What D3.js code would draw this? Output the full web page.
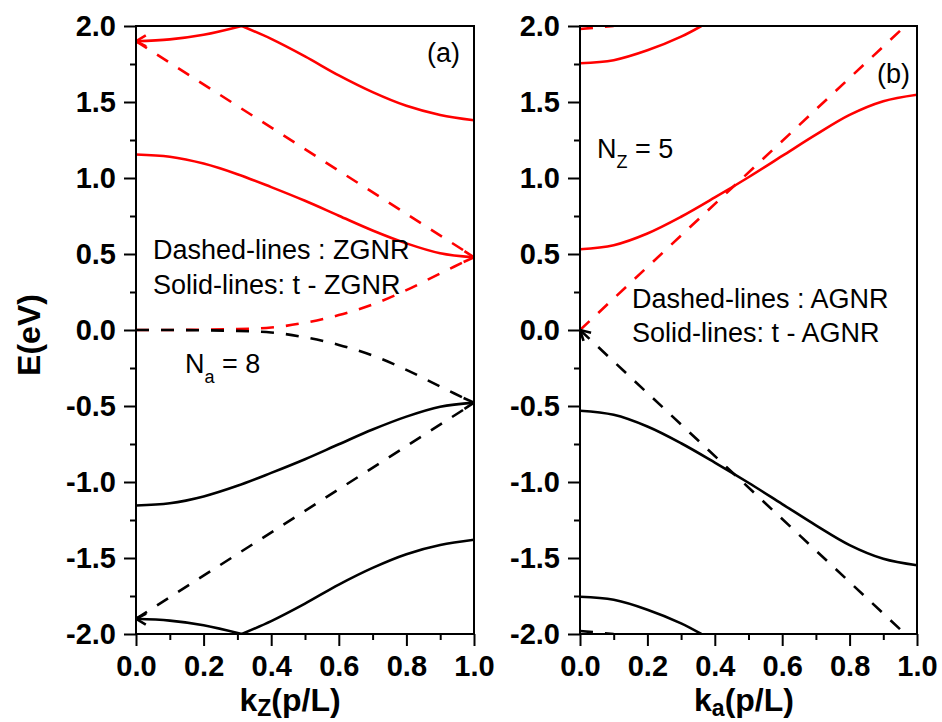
<!doctype html>
<html lang="en">
<head>
    <meta charset="UTF-8">
    <title>D3: band structure</title>
    <script type="text/javascript" src="https://cdn.jsdelivr.net/npm/d3@7"></script>
    <style type="text/css">
        body { margin: 0; background: #fff; }
        svg { font-family: "Liberation Sans", Arial, sans-serif; }
        .tick text { font-weight: bold; font-size: 29px; fill: #000; }
        .domain { display: none; }
        .tick line { stroke: #000; stroke-width: 2px; }
    </style>
</head>
<body>
<script type="text/javascript">
    // shared k grid
    var kFull = [0, 0.1, 0.2, 0.3, 0.4, 0.5, 0.6, 0.7, 0.8, 0.9, 1.0];

    // panel (a): ZGNR / t-ZGNR, Na = 8
    var aRiseK = [0, 0.1, 0.2, 0.313];
    var aFallK = [0.313, 0.4, 0.5, 0.6, 0.7, 0.8, 0.9, 1.0];
    var aLineK = [0, 1];
    var aRedTopRise = [1.90, 1.912, 1.942, 2.0];
    var aRedTopFall = [2.0, 1.915, 1.80, 1.675, 1.565, 1.475, 1.415, 1.38];
    var aRedSolid = [1.155, 1.14, 1.095, 1.025, 0.94, 0.85, 0.752, 0.655, 0.57, 0.505, 0.478];
    var aRedDashUpper = [1.90, 0.48];
    var aRedDashLower = [0, 0, 0.002, 0.006, 0.016, 0.048, 0.098, 0.168, 0.262, 0.372, 0.48];
    var aBlackDashUpper = [0, 0, -0.002, -0.006, -0.016, -0.048, -0.098, -0.168, -0.262, -0.372, -0.48];
    var aBlackDashLower = [-1.90, -0.48];
    var aBlackSolid = [-1.155, -1.14, -1.095, -1.025, -0.94, -0.85, -0.752, -0.655, -0.57, -0.505, -0.478];
    var aBlackBotRise = [-1.90, -1.912, -1.942, -2.0];
    var aBlackBotFall = [-2.0, -1.915, -1.80, -1.675, -1.565, -1.475, -1.415, -1.38];

    // panel (b): AGNR / t-AGNR, Nz = 5
    var bTopK = [0, 0.1, 0.2, 0.3, 0.36];
    var bStubK = [0, 0.1];
    var bDashK = [0, 0.965];
    var bRedTop = [1.755, 1.775, 1.84, 1.93, 2.0];
    var bRedStub = [1.98, 2.0];
    var bRedSolid = [0.531, 0.558, 0.635, 0.745, 0.872, 1.005, 1.145, 1.285, 1.415, 1.505, 1.548];
    var bRedDash = [0, 2.0];
    var bBlackDash = [0, -2.0];
    var bBlackSolid = [-0.531, -0.558, -0.635, -0.745, -0.872, -1.005, -1.145, -1.285, -1.415, -1.505, -1.548];
    var bBlackBot = [-1.755, -1.775, -1.84, -1.93, -2.0];
    var bBlackStub = [-1.98, -2.0];

    var yMajor = [-2, -1.5, -1, -0.5, 0, 0.5, 1, 1.5, 2];
    var yMinor = [-1.75, -1.25, -0.75, -0.25, 0.25, 0.75, 1.25, 1.75];
    var xMajor = [0, 0.2, 0.4, 0.6, 0.8, 1.0];
    var xMinor = [0.1, 0.3, 0.5, 0.7, 0.9];

    var RED = "#ff0000", BLACK = "#000000";

    var panels = [
        {
            id: "a", left: 136, right: 474,
            curves: [
                {k: aRiseK, e: aRedTopRise, c: RED, start: true},
                {k: aFallK, e: aRedTopFall, c: RED},
                {k: kFull, e: aRedSolid, c: RED, end: true},
                {k: aLineK, e: aRedDashUpper, c: RED, dash: true},
                {k: kFull, e: aRedDashLower, c: RED, dash: true},
                {k: kFull, e: aBlackDashUpper, c: BLACK, dash: true},
                {k: aLineK, e: aBlackDashLower, c: BLACK, dash: true},
                {k: kFull, e: aBlackSolid, c: BLACK, end: true},
                {k: aRiseK, e: aBlackBotRise, c: BLACK, start: true},
                {k: aFallK, e: aBlackBotFall, c: BLACK}
            ]
        },
        {
            id: "b", left: 580, right: 917,
            curves: [
                {k: bTopK, e: bRedTop, c: RED},
                {k: bStubK, e: bRedStub, c: RED, dash: true},
                {k: kFull, e: bRedSolid, c: RED},
                {k: bDashK, e: bRedDash, c: RED, dash: true},
                {k: bDashK, e: bBlackDash, c: BLACK, dash: true, start: true},
                {k: kFull, e: bBlackSolid, c: BLACK},
                {k: bTopK, e: bBlackBot, c: BLACK},
                {k: bStubK, e: bBlackStub, c: BLACK, dash: true}
            ]
        }
    ];

    var w = 942, h = 722, plotTop = 26, plotBottom = 634;

    var svg = d3.select("body").append("svg").attr("width", w).attr("height", h);
    var defs = svg.append("defs");

    [["red", RED], ["black", BLACK]].forEach(function (m) {
        defs.append("marker")
            .attr("id", "arrow-" + m[0])
            .attr("markerUnits", "userSpaceOnUse")
            .attr("viewBox", "-12 -7 14 14")
            .attr("markerWidth", 14)
            .attr("markerHeight", 14)
            .attr("refX", 0)
            .attr("refY", 0)
            .attr("orient", "auto-start-reverse")
            .append("path")
            .attr("d", "M-10,-5.5 L0,0 L-10,5.5")
            .attr("fill", "none")
            .attr("stroke", m[1])
            .attr("stroke-width", 2.6)
            .attr("stroke-linejoin", "miter");
    });

    var y_scale = d3.scaleLinear().domain([-2, 2]).range([plotBottom, plotTop]);

    panels.forEach(function (p) {
        var x_scale = d3.scaleLinear().domain([0, 1]).range([p.left, p.right]);
        var g = svg.append("g");

        defs.append("clipPath").attr("id", "clip-" + p.id)
            .append("rect")
            .attr("x", p.left).attr("y", plotTop)
            .attr("width", p.right - p.left).attr("height", plotBottom - plotTop);

        var line = d3.line()
            .x(function (d) { return x_scale(d[0]); })
            .y(function (d) { return y_scale(d[1]); })
            .curve(d3.curveCatmullRom.alpha(0.5));

        var cg = g.append("g").attr("clip-path", "url(#clip-" + p.id + ")");
        cg.selectAll("path")
            .data(p.curves)
            .enter()
            .append("path")
            .attr("d", function (c) {
                return line(c.k.map(function (k, i) { return [k, c.e[i]]; }));
            })
            .attr("fill", "none")
            .attr("stroke", function (c) { return c.c; })
            .attr("stroke-width", 2.6)
            .attr("stroke-dasharray", function (c) { return c.dash ? "13,12" : null; })
            .attr("marker-start", function (c) {
                return c.start ? "url(#arrow-" + (c.c === RED ? "red" : "black") + ")" : null;
            })
            .attr("marker-end", function (c) {
                return c.end ? "url(#arrow-" + (c.c === RED ? "red" : "black") + ")" : null;
            });

        // axes
        g.append("g").attr("transform", "translate(" + p.left + ",0)")
            .call(d3.axisLeft(y_scale).tickValues(yMajor).tickSize(12).tickPadding(8)
                .tickFormat(function (d) { return d.toFixed(1); }));
        g.append("g").attr("transform", "translate(" + p.left + ",0)")
            .call(d3.axisLeft(y_scale).tickValues(yMinor).tickSize(6).tickFormat(""));
        g.append("g").attr("transform", "translate(0," + plotBottom + ")")
            .call(d3.axisBottom(x_scale).tickValues(xMajor).tickSize(12).tickPadding(9)
                .tickFormat(function (d) { return d.toFixed(1); }));
        g.append("g").attr("transform", "translate(0," + plotBottom + ")")
            .call(d3.axisBottom(x_scale).tickValues(xMinor).tickSize(6).tickFormat(""));

        g.append("rect")
            .attr("x", p.left).attr("y", plotTop)
            .attr("width", p.right - p.left).attr("height", plotBottom - plotTop)
            .attr("fill", "none").attr("stroke", "#000").attr("stroke-width", 2);
    });

    // axis titles
    svg.append("text")
        .attr("transform", "translate(40,335) rotate(-90)")
        .attr("text-anchor", "middle")
        .attr("font-size", "32px").attr("font-weight", "bold")
        .text("E(eV)");

    function xTitle(cx, sub) {
        var t = svg.append("text")
            .attr("x", cx).attr("y", 711)
            .attr("text-anchor", "middle")
            .attr("font-size", "32px").attr("font-weight", "bold");
        t.append("tspan").text("k");
        t.append("tspan").attr("font-size", "23px").attr("dy", 5).text(sub);
        t.append("tspan").attr("dy", -5).text("(p/L)");
    }
    xTitle(290, "Z");
    xTitle(744, "a");

    function label(x, y, txt, size) {
        svg.append("text").attr("x", x).attr("y", y)
            .attr("font-size", (size || 27) + "px").text(txt);
    }
    label(427, 62, "(a)");
    label(877, 83, "(b)");
    label(153, 259, "Dashed-lines : ZGNR");
    label(153, 294, "Solid-lines: t - ZGNR");
    label(632, 308, "Dashed-lines : AGNR");
    label(632, 342, "Solid-lines: t - AGNR");

    function nLabel(x, y, sub, val) {
        var t = svg.append("text").attr("x", x).attr("y", y).attr("font-size", "27px");
        t.append("tspan").text("N");
        t.append("tspan").attr("font-size", "18px").attr("dy", 10).text(sub);
        t.append("tspan").attr("dy", -10).text(" = " + val);
    }
    nLabel(185, 373, "a", 8);
    nLabel(597, 158, "Z", 5);
</script>
</body>
</html>
